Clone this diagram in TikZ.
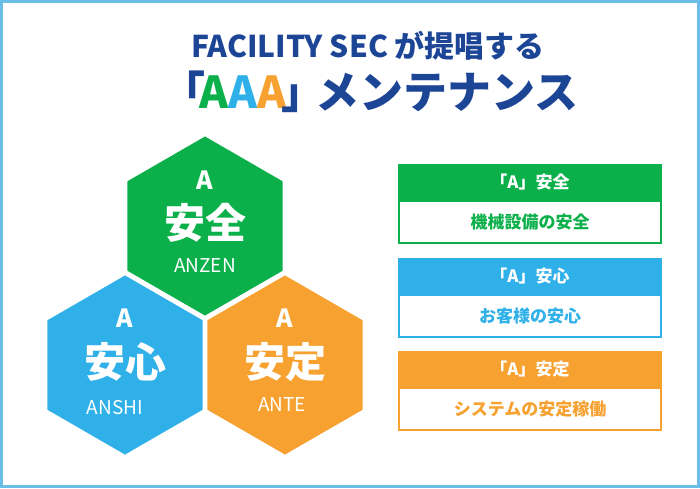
\documentclass[tikz,border=0pt]{standalone}
\usepackage{fontspec}
\setmainfont{Noto Sans CJK JP}
\usetikzlibrary{shapes.geometric}
\definecolor{gr}{HTML}{0CB04B}
\definecolor{bl}{HTML}{2FB0E8}
\definecolor{og}{HTML}{F6A130}
\definecolor{nv}{HTML}{1D4596}
\definecolor{fr}{HTML}{6CBEE8}
\tikzset{
 hex/.style={regular polygon,regular polygon sides=6,shape border rotate=30,minimum size=184pt,draw=white,line width=4pt,inner sep=0pt},
 ha/.style={text=white,font=\bfseries\fontsize{25}{25}\selectfont},
 hk/.style={text=white,font=\bfseries\fontsize{41}{41}\selectfont},
 hr/.style={text=white,font=\fontsize{19}{19}\selectfont},
 head/.style={minimum width=264pt,minimum height=36pt,inner sep=0pt,text=white,font=\bfseries\fontsize{17}{17}\selectfont},
 body/.style={minimum width=262pt,minimum height=42pt,inner sep=0pt,fill=white,line width=1.5pt,font=\bfseries\fontsize{17}{17}\selectfont},
}
\begin{document}
\begin{tikzpicture}[x=1pt,y=-1pt]
\useasboundingbox (0,0) rectangle (700,488);
\draw[fr,line width=3pt] (1.5,1.5) rectangle (698.5,486.5);
\node[text=nv,font=\bfseries\fontsize{30}{30}\selectfont] (t1) at (368,46) {FACILITY SEC が提唱する};
\node[text=nv,font=\bfseries\fontsize{44}{44}\selectfont] (t2) at (370,92) {「\kern-6pt\textcolor{gr}{A}\textcolor{bl}{A}\textcolor{og}{A}\kern-6pt」\kern-10ptメンテナンス};
\node[hex,fill=gr] (h1) at (205,226) {};
\node[hex,fill=bl] (h2) at (125,365) {};
\node[hex,fill=og] (h3) at (285,365) {};
\node[ha] (a1) at (205,180) {A};
\node[hk] (k1) at (205,223) {安全};
\node[hr] (r1) at (205,266) {ANZEN};
\node[ha] (a2) at (125,318) {A};
\node[hk] (k2) at (125,362) {安心};
\node[hr] (r2) at (115,408) {ANSHI};
\node[ha] (a3) at (285,318) {A};
\node[hk] (k3) at (285,362) {安定};
\node[hr] (r3) at (282,405) {ANTE};
\node[head,fill=gr] (g1) at (530,182) {「A」安全};
\node[body,draw=gr,text=gr] (g2) at (530,222) {機械設備の安全};
\node[head,fill=bl] (b1) at (530,276) {「A」安心};
\node[body,draw=bl,text=bl] (b2) at (530,316) {お客様の安心};
\node[head,fill=og] (o1) at (530,369) {「A」安定};
\node[body,draw=og,text=og] (o2) at (530,409) {システムの安定稼働};
\end{tikzpicture}
\end{document}
